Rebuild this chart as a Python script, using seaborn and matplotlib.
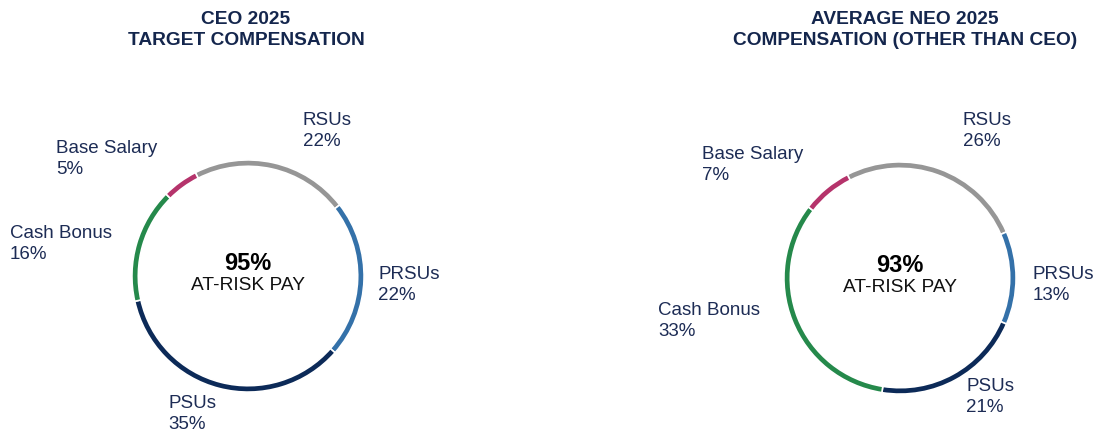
import matplotlib
matplotlib.use("Agg")
import matplotlib.pyplot as plt
import seaborn as sns

sns.set_theme(style="white")
plt.rcParams['font.family'] = ['Liberation Sans', 'DejaVu Sans']

# data
components = ['RSUs', 'PRSUs', 'PSUs', 'Cash Bonus', 'Base Salary']
ceo_values = [22, 22, 35, 16, 5]
neo_values = [26, 13, 21, 33, 7]
ceo_title = 'CEO 2025\nTARGET COMPENSATION'
neo_title = 'AVERAGE NEO 2025\nCOMPENSATION (OTHER THAN CEO)'
ceo_at_risk = '95%'
neo_at_risk = '93%'

colors = ['#969696', '#3471a9', '#0c2a58', '#25894b', '#b5336b']
navy = '#14264d'
W, H = 1098, 432

fig = plt.figure(figsize=(W / 100, H / 100), dpi=100)

# label anchor positions in pixels (left edge, vertical centre of 2-line label)
ceo_label_pos = [(303, 131), (378, 285), (168, 414), (10, 244), (56, 159)]
neo_label_pos = [(963, 131), (1033, 285), (966, 397), (658, 321), (702, 165)]


def donut(cx, cy, values, title, at_risk, label_pos, title_x):
    size = 260
    ax = fig.add_axes([(cx - size / 2) / W, (H - cy - size / 2) / H, size / W, size / H])
    ax.pie(values, colors=colors, startangle=117, counterclock=False,
           radius=1.0, wedgeprops=dict(width=0.055, edgecolor='white', linewidth=1.2))
    ax.set_xlim(-1.12, 1.12)
    ax.set_ylim(-1.12, 1.12)
    ax.set_aspect('equal')
    ax.axis('off')
    ax.text(0, 0.11, at_risk, ha='center', va='center', fontsize=17,
            fontweight='bold', color='black')
    ax.text(0, -0.08, 'AT-RISK PAY', ha='center', va='center', fontsize=13.8,
            color='#111111')
    fig.text(title_x / W, 1 - 30 / H, title, ha='center', va='center',
             fontsize=13.8, fontweight='bold', color=navy, linespacing=1.3)
    for name, val, (x, y) in zip(components, values, label_pos):
        fig.text(x / W, 1 - y / H, f'{name}\n{val}%', ha='left', va='center',
                 fontsize=13.5, color='#1d2c55', linespacing=1.3)


donut(248, 276, ceo_values, ceo_title, ceo_at_risk, ceo_label_pos, 246)
donut(900, 278, neo_values, neo_title, neo_at_risk, neo_label_pos, 905)

fig.savefig('out.png', dpi=100, facecolor='white')
